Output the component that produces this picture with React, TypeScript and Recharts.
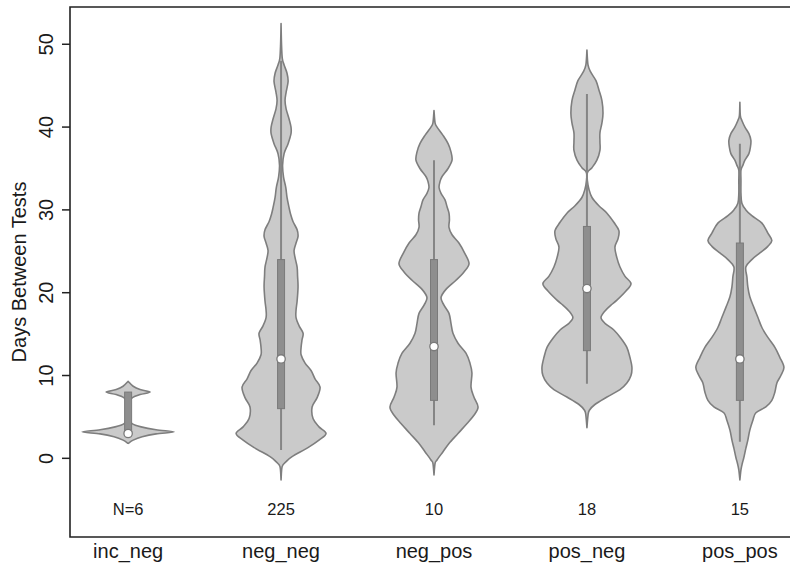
import React from 'react';
import { ScatterChart, Scatter, XAxis, YAxis, ReferenceArea } from 'recharts';

const categories = ['inc_neg', 'neg_neg', 'neg_pos', 'pos_neg', 'pos_pos'];
const counts = ['N=6', '225', '10', '18', '15'];

// violin outlines: [days, half-width in category units], bottom to top
const incNeg = [
  [1.8, 0], [2.2, 0.033], [2.6, 0.092], [2.95, 0.183], [3.2, 0.301], [3.45, 0.183], [3.8, 0.085],
  [4.2, 0.026], [4.8, 0.01], [5.8, 0.007], [6.8, 0.01], [7.3, 0.026], [7.7, 0.078], [8.0, 0.144],
  [8.3, 0.078], [8.7, 0.033], [9.3, 0],
];
const negNeg = [
  [-2.6, 0], [-1.0, 0.007], [-0.4, 0.033], [0.2, 0.072], [1.3, 0.176], [2.2, 0.248], [3.0, 0.294],
  [3.8, 0.248], [4.8, 0.209], [6.2, 0.203], [7.3, 0.235], [8.6, 0.255], [9.6, 0.222], [10.6, 0.196],
  [11.5, 0.157], [12.5, 0.131], [13.4, 0.131], [14.3, 0.137], [15.1, 0.144], [16.0, 0.118],
  [17.0, 0.098], [17.9, 0.098], [19.0, 0.105], [20.7, 0.111], [22.0, 0.108], [23.1, 0.105],
  [24.2, 0.092], [25.1, 0.085], [26.0, 0.098], [26.8, 0.111], [27.6, 0.105], [28.6, 0.078],
  [29.5, 0.062], [30.3, 0.052], [31.5, 0.039], [32.7, 0.031], [34.0, 0.016], [35.4, 0.01],
  [36.8, 0.02], [38.0, 0.046], [39.2, 0.065], [40.0, 0.065], [41.0, 0.052], [42.2, 0.033],
  [43.2, 0.026], [44.2, 0.033], [45.5, 0.046], [46.5, 0.039], [47.5, 0.02], [48.3, 0.008],
  [50.0, 0.003], [52.5, 0],
];
const negPos = [
  [-2.0, 0], [-0.6, 0.007], [-0.2, 0.02], [0.8, 0.059], [1.8, 0.098], [3.0, 0.157], [4.2, 0.216],
  [5.2, 0.261], [6.2, 0.288], [7.4, 0.261], [8.6, 0.242], [10.3, 0.248], [11.5, 0.235],
  [12.7, 0.209], [13.9, 0.157], [15.1, 0.124], [16.3, 0.111], [17.5, 0.098], [18.5, 0.065],
  [19.4, 0.046], [20.4, 0.078], [21.5, 0.144], [22.5, 0.196], [23.5, 0.229], [24.7, 0.203],
  [26.0, 0.163], [27.0, 0.118], [27.9, 0.098], [28.8, 0.101], [29.6, 0.098], [30.4, 0.085],
  [31.2, 0.072], [32.0, 0.046], [32.7, 0.033], [33.4, 0.039], [34.0, 0.052], [35.0, 0.092],
  [36.0, 0.118], [37.0, 0.111], [38.0, 0.092], [39.0, 0.059], [40.0, 0.02], [40.5, 0.007], [42.0, 0],
];
const posNeg = [
  [3.7, 0], [5.2, 0.007], [5.8, 0.016], [6.5, 0.052], [7.4, 0.131], [8.3, 0.216], [9.1, 0.261],
  [10.0, 0.288], [11.0, 0.294], [12.2, 0.281], [13.4, 0.261], [14.5, 0.222], [15.5, 0.176],
  [16.3, 0.118], [17.0, 0.092], [17.8, 0.118], [18.5, 0.157], [19.1, 0.196], [20.2, 0.255],
  [21.1, 0.288], [22.0, 0.248], [23.1, 0.216], [24.2, 0.196], [25.5, 0.183], [26.5, 0.203],
  [27.5, 0.209], [28.5, 0.176], [29.6, 0.131], [30.5, 0.078], [31.5, 0.033], [32.5, 0.013],
  [33.5, 0.003], [34.5, 0.003], [35.1, 0.033], [36.0, 0.065], [37.2, 0.085], [38.2, 0.085],
  [39.3, 0.085], [40.5, 0.098], [41.7, 0.105], [43.2, 0.098], [44.5, 0.078], [45.6, 0.059],
  [46.6, 0.026], [47.5, 0.007], [49.3, 0],
];
const posPos = [
  [-2.6, 0], [-1.4, 0.007], [-0.6, 0.016], [0.1, 0.026], [1.2, 0.039], [2.2, 0.052], [3.4, 0.065],
  [4.6, 0.085], [5.5, 0.105], [6.2, 0.17], [7.0, 0.209], [8.0, 0.229], [9.1, 0.242], [10.0, 0.268],
  [11.0, 0.288], [12.2, 0.261], [13.4, 0.229], [14.6, 0.183], [15.8, 0.144], [17.0, 0.118],
  [18.2, 0.092], [19.5, 0.065], [20.7, 0.052], [21.9, 0.046], [23.1, 0.039], [24.0, 0.078],
  [24.8, 0.131], [25.6, 0.183], [26.3, 0.209], [27.2, 0.183], [28.4, 0.144], [29.3, 0.078],
  [30.0, 0.039], [30.8, 0.013], [32.0, 0.007], [33.5, 0.007], [34.8, 0.007], [35.4, 0.02],
  [36.0, 0.033], [36.8, 0.059], [37.6, 0.069], [38.4, 0.072], [39.2, 0.059], [40.0, 0.033],
  [40.8, 0.013], [41.4, 0.003], [43.0, 0],
];
const violins = [incNeg, negNeg, negPos, posNeg, posPos];

// box plot stats
const mins = [3, 1, 4, 9, 2];
const q1s = [3, 6, 7, 13, 7];
const medians = [3, 12, 13.5, 20.5, 12];
const q3s = [8, 24, 24, 28, 26];
const maxs = [8, 48, 36, 44, 38];

const yTicks = [0, 10, 20, 30, 40, 50];
const xTicks = [0, 1, 2, 3, 4];
const X_DOMAIN: [number, number] = [-0.38, 4.38];
const Y_DOMAIN: [number, number] = [-9.5, 54.5];
const COUNT_Y = -6.15;

const FONT = "'Liberation Sans', Arial, Helvetica, sans-serif";
const INK = '#1a1a1a';

type Pt = { x: number; y: number };

// smooth closed path through the pixel points the library computed
function smoothPath(pts: Pt[]) {
  const n = pts.length;
  let d = `M${pts[0].x},${pts[0].y}`;
  for (let i = 0; i < n; i++) {
    const p0 = pts[(i - 1 + n) % n];
    const p1 = pts[i];
    const p2 = pts[(i + 1) % n];
    const p3 = pts[(i + 2) % n];
    if (Math.abs(p1.x - p2.x) < 0.01 && Math.abs(p1.y - p2.y) < 0.01) continue;
    const c1x = p1.x + (p2.x - p0.x) / 6;
    const c1y = p1.y + (p2.y - p0.y) / 6;
    const c2x = p2.x - (p3.x - p1.x) / 6;
    const c2y = p2.y - (p3.y - p1.y) / 6;
    d += ` C${c1x},${c1y} ${c2x},${c2y} ${p2.x},${p2.y}`;
  }
  return d + ' Z';
}

const outlineData = (i: number, prof: number[][]) => {
  const right = prof.map(([y, w]) => ({ x: i + w, y }));
  const left = prof.slice().reverse().map(([y, w]) => ({ x: i - w, y }));
  return [...right, ...left];
};

const ViolinShape = (props: any) => (
  <path
    d={smoothPath(props.points)}
    fill="#cacaca"
    stroke="#7e7e7e"
    strokeWidth={1.6}
    strokeLinejoin="round"
  />
);

const BoxShape = (props: any) => {
  const [pMin, pQ1, pQ3, pMax] = props.points;
  return (
    <g>
      <line x1={pMin.x} y1={pMin.y} x2={pMax.x} y2={pMax.y} stroke="#858585" strokeWidth={2} />
      <rect
        x={pQ1.x - 3.5}
        y={pQ3.y}
        width={7}
        height={Math.max(pQ1.y - pQ3.y, 0)}
        fill="#8e8e8e"
        stroke="#7a7a7a"
        strokeWidth={1}
      />
    </g>
  );
};

const Empty = () => <g />;

const MedianDot = (props: any) => (
  <circle cx={props.cx} cy={props.cy} r={4.2} fill="#ffffff" stroke="#7a7a7a" strokeWidth={1.3} />
);

const CountLabel = (props: any) => (
  <text x={props.cx} y={props.cy} dy="0.35em" textAnchor="middle" fontSize={16.5} fontFamily={FONT} fill={INK}>
    {props.payload.text}
  </text>
);

const XTick = (props: any) => (
  <text x={props.x} y={props.y + 21} textAnchor="middle" fontSize={20} fontFamily={FONT} fill={INK}>
    {categories[props.payload.value]}
  </text>
);

const YTick = (props: any) => {
  const tx = props.x - 9;
  return (
    <text
      x={tx}
      y={props.y}
      transform={`rotate(-90 ${tx} ${props.y})`}
      textAnchor="middle"
      fontSize={20}
      fontFamily={FONT}
      fill={INK}
    >
      {props.payload.value}
    </text>
  );
};

const YTitle = (props: any) => {
  const vb = props.viewBox;
  const cx = vb.x + 26;
  const cy = vb.y + vb.height / 2;
  return (
    <text x={cx} y={cy} transform={`rotate(-90 ${cx} ${cy})`} textAnchor="middle" fontSize={20} fontFamily={FONT} fill={INK}>
      Days Between Tests
    </text>
  );
};

export default function App() {
  const countData = categories.map((_, i) => ({ x: i, y: COUNT_Y, text: counts[i] }));
  const medianData = categories.map((_, i) => ({ x: i, y: medians[i] }));

  return (
    <div style={{ position: 'absolute', left: 0, top: 0, width: 790, height: 563, overflow: 'hidden', background: '#fff' }}>
      <ScatterChart width={798} height={563} margin={{ top: 7, right: 0, bottom: 0, left: 0 }}>
        <XAxis
          type="number"
          dataKey="x"
          domain={X_DOMAIN}
          allowDataOverflow
          ticks={xTicks}
          interval={0}
          height={26}
          axisLine={false}
          tickLine={false}
          tickSize={0}
          tickMargin={0}
          tick={<XTick />}
        />
        <YAxis
          type="number"
          dataKey="y"
          domain={Y_DOMAIN}
          allowDataOverflow
          ticks={yTicks}
          interval={0}
          width={70}
          axisLine={false}
          tickSize={8}
          tickMargin={0}
          tickLine={{ stroke: '#222', strokeWidth: 1.5 }}
          tick={<YTick />}
          label={YTitle}
        />
        <ReferenceArea
          x1={X_DOMAIN[0]}
          x2={X_DOMAIN[1]}
          y1={Y_DOMAIN[0]}
          y2={Y_DOMAIN[1]}
          fill="none"
          stroke="#222"
          strokeWidth={1.6}
          ifOverflow="visible"
        />
        {violins.map((prof, i) => (
          <Scatter
            key={`v-${categories[i]}`}
            data={outlineData(i, prof)}
            shape={<Empty />}
            line={ViolinShape}
            isAnimationActive={false}
          />
        ))}
        {categories.map((c, i) => (
          <Scatter
            key={`b-${c}`}
            data={[
              { x: i, y: mins[i] },
              { x: i, y: q1s[i] },
              { x: i, y: q3s[i] },
              { x: i, y: maxs[i] },
            ]}
            shape={<Empty />}
            line={BoxShape}
            isAnimationActive={false}
          />
        ))}
        <Scatter data={medianData} shape={MedianDot} isAnimationActive={false} />
        <Scatter data={countData} shape={CountLabel} isAnimationActive={false} />
      </ScatterChart>
    </div>
  );
}
